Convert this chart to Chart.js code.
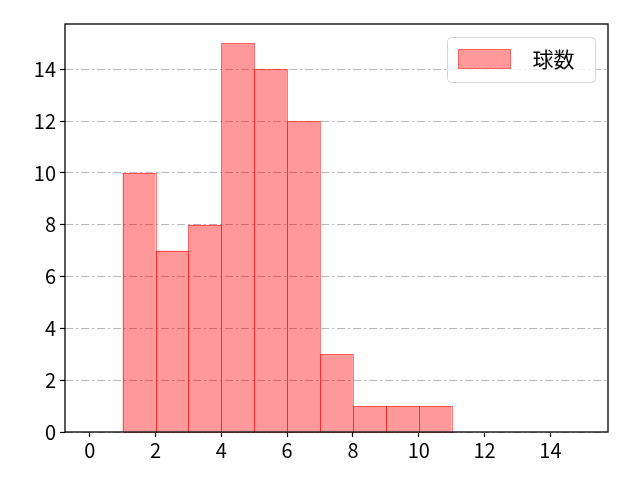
<!DOCTYPE html>
<html>
<head>
<meta charset="utf-8">
<script src="https://cdn.jsdelivr.net/npm/chart.js@4"></script>
<style>
  html, body { margin: 0; padding: 0; background: #fff; }
  #wrap { width: 640px; height: 480px; }
</style>
</head>
<body>
<div id="wrap"><canvas id="histChart" width="640" height="480"></canvas></div>
<script>
// ===============================
// Data
// ===============================
const binStarts = [1, 2, 3, 4, 5, 6, 7, 8, 9, 10];
const counts = [10, 7, 8, 15, 14, 12, 3, 1, 1, 1];
const xTicks = [0, 2, 4, 6, 8, 10, 12, 14];
const yTicks = [0, 2, 4, 6, 8, 10, 12, 14];
const seriesLabel = '球数';

const FONT = "'Noto Sans CJK JP', 'DejaVu Sans', sans-serif";
const EDGE = 'rgba(255, 0, 0, 0.5)';

// thin single-pixel bar edges, like matplotlib's hist edgecolor
const edgePlugin = {
  id: 'edges',
  afterDatasetsDraw(chart) {
    const { ctx } = chart;
    const meta = chart.getDatasetMeta(0);
    ctx.save();
    ctx.strokeStyle = EDGE;
    ctx.lineWidth = 1;
    meta.data.forEach(bar => {
      const { x, y, base, width } = bar.getProps(['x', 'y', 'base', 'width'], true);
      const l = Math.round(x - width / 2) + 0.5;
      const r = Math.round(x + width / 2) + 0.5;
      const t = Math.round(y) + 0.5;
      const b = Math.round(base) + 0.5;
      ctx.strokeRect(l, t, r - l, b - t);
    });
    ctx.restore();
  }
};

// frame around the plot area + legend box inside it
const framePlugin = {
  id: 'frame',
  afterDraw(chart) {
    const { ctx, chartArea: a } = chart;
    ctx.save();
    ctx.strokeStyle = '#000';
    ctx.lineWidth = 1.3;
    ctx.strokeRect(a.left, a.top, a.right - a.left, a.bottom - a.top);

    // legend
    const bx = 447.5, by = 37.5, bw = 148, bh = 45;
    ctx.beginPath();
    ctx.roundRect(bx, by, bw, bh, 4);
    ctx.fillStyle = 'rgba(255,255,255,0.8)';
    ctx.fill();
    ctx.strokeStyle = '#d6d6d6';
    ctx.lineWidth = 1;
    ctx.stroke();

    ctx.fillStyle = 'rgba(255,0,0,0.4)';
    ctx.fillRect(bx + 11, by + 12, 52, 19);
    ctx.strokeStyle = EDGE;
    ctx.strokeRect(bx + 11, by + 12, 52, 19);

    ctx.fillStyle = '#000';
    ctx.font = '21px ' + FONT;
    ctx.textBaseline = 'middle';
    ctx.fillText(chart.data.datasets[0].label, bx + 85, by + 22);
    ctx.restore();
  }
};

const ctx = document.getElementById('histChart').getContext('2d');

new Chart(ctx, {
  type: 'bar',
  data: {
    datasets: [{
      label: seriesLabel,
      data: binStarts.map((s, i) => ({ x: s + 0.5, y: counts[i] })),
      backgroundColor: 'rgba(255, 0, 0, 0.4)',
      borderWidth: 0,
      inflateAmount: 0,
      barPercentage: 1,
      categoryPercentage: 1
    }]
  },
  options: {
    responsive: false,
    animation: false,
    devicePixelRatio: 1,
    layout: { padding: { top: 24, right: 32, left: 0, bottom: 0 } },
    plugins: {
      legend: { display: false },
      tooltip: { enabled: false }
    },
    scales: {
      x: {
        type: 'linear',
        offset: false,
        min: -0.75,
        max: 15.75,
        afterBuildTicks: (scale) => { scale.ticks = xTicks.map(v => ({ value: v })); },
        afterFit: (scale) => { scale.height = 48; },
        grid: {
          offset: false,
          drawOnChartArea: false,
          drawTicks: true,
          tickLength: 5,
          tickColor: '#000',
          tickWidth: 1.2
        },
        border: { display: false },
        ticks: {
          color: '#000',
          font: { family: FONT, size: 20 },
          padding: 1,
          maxRotation: 0
        }
      },
      y: {
        min: 0,
        max: 15.75,
        afterBuildTicks: (scale) => { scale.ticks = yTicks.map(v => ({ value: v })); },
        afterFit: (scale) => { scale.width = 65; },
        grid: {
          color: '#b0b0b0',
          lineWidth: 0.9,
          drawTicks: true,
          tickLength: 5,
          tickColor: '#000',
          tickWidth: 1.2,
          tickBorderDash: []
        },
        border: { display: false, dash: [8, 3, 2, 3] },
        ticks: {
          color: '#000',
          font: { family: FONT, size: 20 },
          padding: 4
        }
      }
    }
  },
  plugins: [edgePlugin, framePlugin]
});
</script>
</body>
</html>
